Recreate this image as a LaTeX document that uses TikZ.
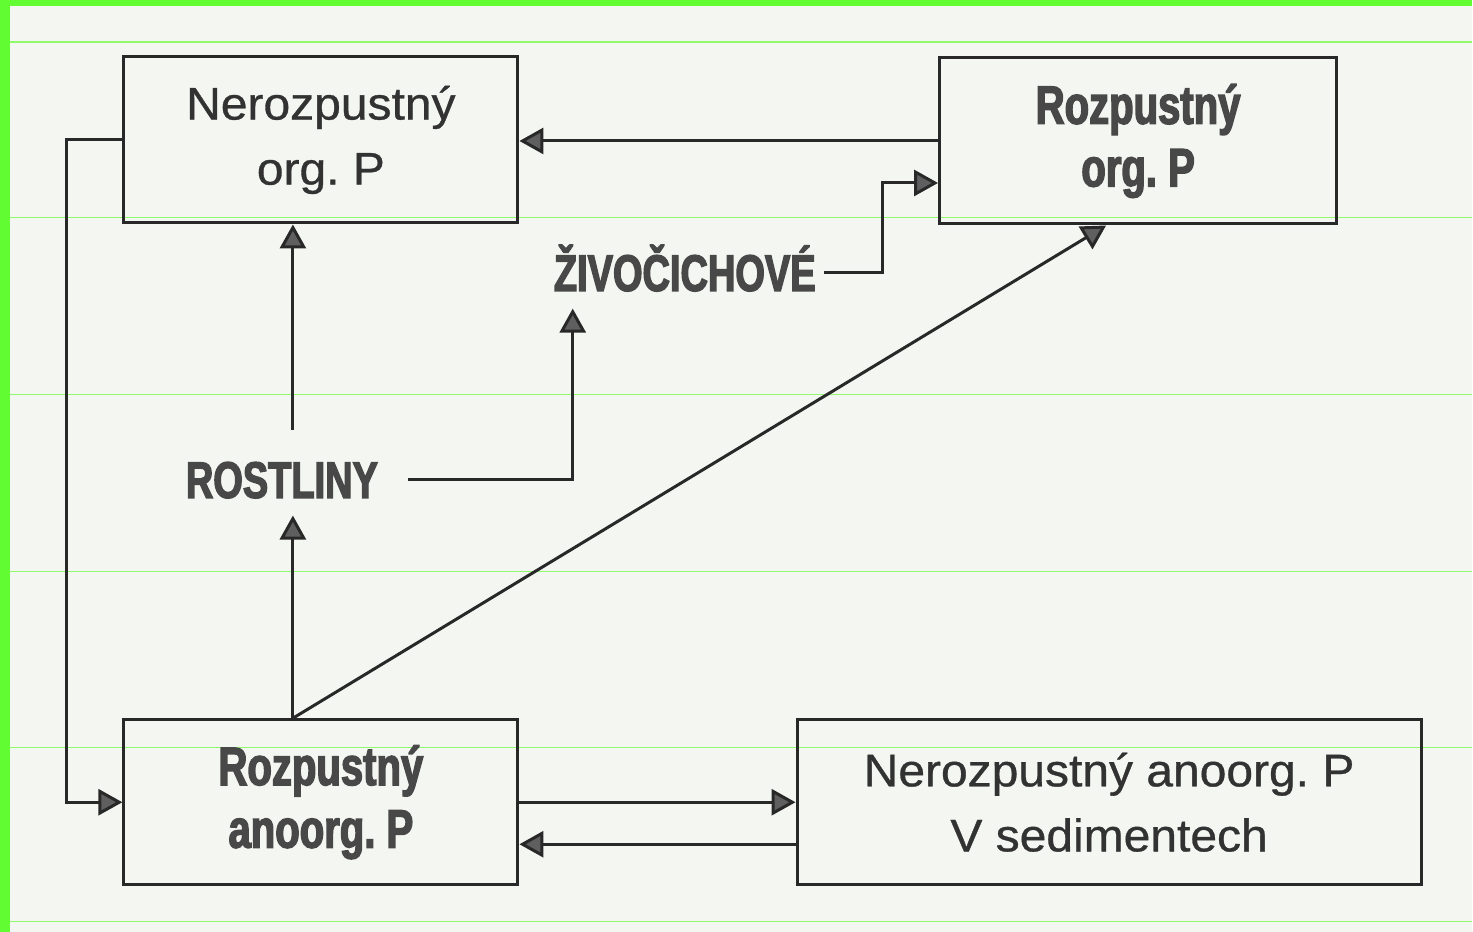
\documentclass[tikz,border=0pt]{standalone}
\usepackage{fontspec}
\setmainfont{Liberation Sans}
\newfontfamily\plainfont[FakeStretch=1.05,FakeBold=0.7]{Liberation Sans}
\newfontfamily\heavyfont[FakeStretch=0.74,FakeBold=2.6]{Liberation Sans Bold}
\frenchspacing
\usetikzlibrary{arrows.meta}
\definecolor{scanpaper}{RGB}{244,246,242}
\definecolor{inkline}{RGB}{40,40,40}
\definecolor{inktext}{RGB}{50,50,50}
\definecolor{heavyink}{RGB}{72,72,72}
\definecolor{tipgray}{RGB}{95,95,95}
\definecolor{markgreen}{RGB}{98,252,50}
\begin{document}
\begin{tikzpicture}[x=0.01cm, y=-0.01cm,
        box/.style={draw=inkline, line width=0.85pt, minimum width=3.94cm, minimum height=1.66cm,
            inner sep=0pt, align=center, text=inktext},
        thin text/.style={font=\plainfont\fontsize{13}{18.5}\selectfont},
        heavy text/.style={font=\heavyfont\fontsize{15.4}{17.8}\selectfont, text=heavyink},
        tag/.style={font=\heavyfont\fontsize{14.6}{16}\selectfont, text=heavyink,
            text height=0.37cm, text depth=0pt, inner ysep=0.17cm, anchor=base},
        flow/.style={draw=inkline, line width=0.85pt,
            -{Triangle[length=0.24cm, width=0.26cm, fill=tipgray]}}]
    % scanned page with the green marks
    \fill[scanpaper] (0,0) rectangle (1473,932);
    \fill[markgreen] (0,0) rectangle (10,932);
    \fill[markgreen] (0,0) rectangle (1473,6);
    \foreach \ypos in {42,218,395,572,748,922}
        \draw[markgreen!70!scanpaper, line width=0.3pt] (10,\ypos) -- (1473,\ypos);

    \node[box, thin text] (insolorg) at (321,140) {Nerozpustný\\org. P};
    \node[box, heavy text, minimum width=3.97cm] (solorg) at (1138.5,141) {Rozpustný\\org. P};
    \node[box, heavy text, minimum height=1.65cm] (solinorg) at (321,802.5) {Rozpustný\\anoorg. P};
    \node[box, thin text, minimum width=6.24cm, minimum height=1.65cm] (sediment) at (1109.5,802.5)
        {Nerozpustný anoorg. P\\V sedimentech};

    \node[tag, inner xsep=0.29cm] (plants) at (282,498) {ROSTLINY};
    \node[tag, inner xsep=0.08cm] (animals) at (685,291) {ŽIVOČICHOVÉ};

    \draw[flow] (solorg.west) -- (solorg.west -| insolorg.east);
    \draw[flow] (animals.east) -- ++(58,0) |- ([yshift=-0.42cm]solorg.west);
    \draw[flow] (plants.east) -| ([xshift=-1.12cm]animals.south);
    \draw[flow, shorten <=0.13cm] ([xshift=0.11cm]plants.north)
        -- ([xshift=0.11cm]plants.north |- insolorg.south);
    \draw[flow] ([xshift=-0.28cm]solinorg.north) -- ([xshift=-0.28cm]solinorg.north |- plants.south);
    \draw[flow] ([xshift=-0.28cm]solinorg.north) -- ([xshift=-0.32cm]solorg.south);
    \draw[flow] (insolorg.west) -- ++(-56,0) |- (solinorg.west);
    \draw[flow] (solinorg.east) -- (solinorg.east -| sediment.west);
    \draw[flow] ([yshift=-0.42cm]sediment.west) -- ([yshift=-0.42cm]sediment.west -| solinorg.east);
\end{tikzpicture}
\end{document}
